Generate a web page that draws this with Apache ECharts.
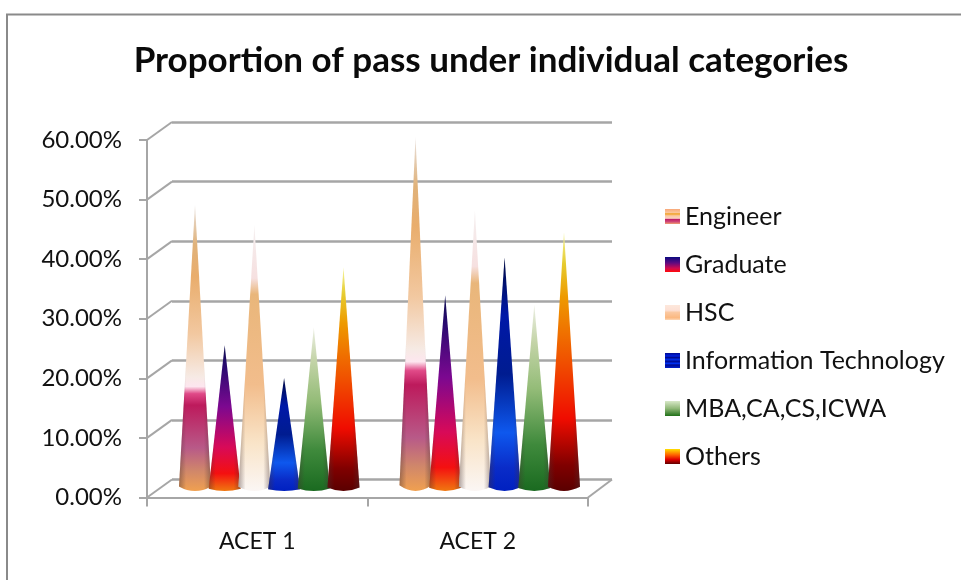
<!DOCTYPE html>
<html><head><meta charset="utf-8">
<style>html,body{margin:0;padding:0;background:#fff}#c{width:961px;height:580px}</style>
<script src="https://cdn.jsdelivr.net/npm/echarts@6/dist/echarts.min.js"></script>
</head><body><div id="c"></div>
<script>
const categories = ['ACET 1', 'ACET 2'];
const engineer = [48.1, 59.5];
const graduate = [24.5, 32.9];
const hsc = [44.7, 47.2];
const infoTech = [19.0, 39.3];
const mba = [27.5, 31.3];
const others = [37.6, 43.5];
const gridTicks = [0, 10, 20, 30, 40, 50, 60];
const FONT = 'Lato, "Open Sans", sans-serif';
const GRID_COLOR = '#a6a6a6';

function vgrad(stops) {
  return {type:'linear',x:0,y:0,x2:0,y2:1,colorStops:stops.map(s=>({offset:s[0],color:s[1]}))};
}
const coneFills = {
  Engineer: vgrad([[0,'#e8e2e0'],[0.14,'#e0b27a'],[0.25,'#e9ad6c'],[0.45,'#f2c8a0'],[0.6,'#f6eae4'],[0.635,'#fde6ef'],[0.66,'#e04a88'],[0.7,'#bd1a5c'],[0.85,'#b85a88'],[0.93,'#d0876a'],[1,'#f0a050']]),
  Graduate: vgrad([[0,'#101050'],[0.15,'#2a0a70'],[0.42,'#7c0890'],[0.7,'#d80a58'],[0.88,'#f41010'],[1,'#f07810']]),
  HSC: vgrad([[0,'#f5f0f0'],[0.2,'#f6e0e0'],[0.26,'#e9b67a'],[0.6,'#f2bd8c'],[0.82,'#f9e4c8'],[1,'#fbf6f4']]),
  'Information Technology': vgrad([[0,'#000a40'],[0.25,'#0018a8'],[0.5,'#001c90'],[0.75,'#0e58ee'],[0.9,'#0a2cc8'],[1,'#0020c0']]),
  'MBA,CA,CS,ICWA': vgrad([[0,'#ecefe4'],[0.2,'#c4d4a8'],[0.45,'#94bc78'],[0.75,'#3f8a3c'],[1,'#1a6a20']]),
  Others: vgrad([[0,'#f4f4a0'],[0.12,'#e6cc30'],[0.25,'#ee9a00'],[0.5,'#f05000'],[0.72,'#f00c00'],[0.9,'#800000'],[1,'#5a0000']])
};
const legendFills = {
  Engineer: vgrad([[0,'#f8a878'],[0.25,'#fbc89c'],[0.32,'#f0a020'],[0.45,'#fbc8a0'],[0.62,'#fbd0c0'],[0.7,'#c02068'],[0.85,'#d04878'],[1,'#f0a070']]),
  Graduate: vgrad([[0,'#0a0a80'],[0.4,'#600a80'],[0.75,'#d00a50'],[1,'#ff0a0a']]),
  HSC: vgrad([[0,'#fde8dc'],[0.35,'#fde0d4'],[0.5,'#fbc8a0'],[0.85,'#fbb880'],[1,'#fdd8b8']]),
  'Information Technology': vgrad([[0,'#000a90'],[0.2,'#0020e0'],[0.3,'#000a90'],[0.45,'#0030f0'],[0.55,'#000a90'],[0.7,'#0030f0'],[0.8,'#000a90'],[1,'#0020d0']]),
  'MBA,CA,CS,ICWA': vgrad([[0,'#d8e8c8'],[0.5,'#90b878'],[1,'#207018']]),
  Others: vgrad([[0,'#ffe000'],[0.4,'#ff6000'],[0.7,'#e00000'],[1,'#600000']])
};
const shade = {type:'linear',x:0,y:0,x2:1,y2:0,colorStops:[
  {offset:0,color:'rgba(70,50,50,0.42)'},{offset:0.22,color:'rgba(70,50,50,0)'},
  {offset:0.78,color:'rgba(70,50,50,0)'},{offset:1,color:'rgba(70,50,50,0.42)'}]};

const seriesData = [
  ['Engineer',engineer],['Graduate',graduate],['HSC',hsc],
  ['Information Technology',infoTech],['MBA,CA,CS,ICWA',mba],['Others',others]
];
const SLOT = 29.7, CONE_W = 32;
const CONE_PATH = 'M50 0 L100 98.4 Q50 101.6 0 98.4 Z';

const coneSeries = seriesData.map(([name,values],i)=>({
  name, type:'custom', xAxisIndex:2, yAxisIndex:2, coordinateSystem:'cartesian2d', z:5,
  itemStyle:{color:legendFills[name]},
  data: values.map((v,j)=>[j,v]),
  encode:{x:0,y:1},
  renderItem(params,api){
    const top = api.coord([api.value(0),api.value(1)]);
    const base = api.coord([api.value(0),0]);
    const cx = top[0]+(i-2.5)*SLOT;
    const shape = {pathData:CONE_PATH,x:cx-CONE_W/2,y:top[1],width:CONE_W,height:base[1]-top[1],layout:'cover'};
    return {type:'group',children:[
      {type:'path',shape,style:{fill:coneFills[name]}},
      {type:'path',shape,style:{fill:shade}}
    ]};
  }
}));

const diagSeries = {
  type:'custom', xAxisIndex:0, yAxisIndex:0, z:1, silent:true,
  data: gridTicks.map(v=>[0,v]), encode:{x:0,y:1},
  renderItem(params,api){
    const p = api.coord([0,api.value(1)]);
    const x = p[0]-api.size([1,0])[0]/2;
    return {type:'line',shape:{x1:x,y1:p[1],x2:x+25,y2:p[1]-18},style:{stroke:GRID_COLOR,lineWidth:2}};
  }
};
const floorSide = {
  type:'custom', xAxisIndex:0, yAxisIndex:0, z:1, silent:true,
  data:[[1,0]], encode:{x:0,y:1},
  renderItem(params,api){
    const p = api.coord([1,0]);
    const x = p[0]+api.size([1,0])[0]/2;
    return {type:'line',shape:{x1:x,y1:p[1],x2:x+24,y2:p[1]-18},style:{stroke:GRID_COLOR,lineWidth:2}};
  }
};

const axisLine = {show:true,lineStyle:{color:GRID_COLOR,width:2}};
const chart = echarts.init(document.getElementById('c'),null,{renderer:'canvas'});
chart.setOption({
  backgroundColor:'#fff', animation:false,
  title:{text:'Proportion of pass under individual categories',left:486,top:38,textAlign:'center',
    textStyle:{fontFamily:FONT,fontWeight:'bold',fontSize:35,color:'#0a0a0a'}},
  graphic:[{type:'rect',z:-1,silent:true,shape:{x:7,y:14.5,width:1000,height:700},style:{fill:'none',stroke:'#8a8a8a',lineWidth:2}}],
  legend:{left:660,top:199,orient:'vertical',itemWidth:15,itemHeight:15,itemGap:26,icon:'rect',
    textStyle:{fontFamily:FONT,fontSize:25,color:'#111',lineHeight:22},
    itemGap:26-3,
    data:seriesData.map(s=>s[0])},
  grid:[
    {left:147,width:441,top:140,height:357.5},
    {left:172,width:440,top:122,height:357.5},
    {left:159,width:441,top:134,height:357}
  ],
  xAxis:[
    {type:'category',gridIndex:0,data:categories,axisLine,axisTick:{show:true,length:9,lineStyle:{color:GRID_COLOR,width:2}},
      axisLabel:{fontFamily:FONT,fontSize:23,color:'#111',margin:33}},
    {type:'category',gridIndex:1,data:categories,axisLine:{show:false},axisTick:{show:false},axisLabel:{show:false}},
    {type:'category',gridIndex:2,data:categories,axisLine:{show:false},axisTick:{show:false},axisLabel:{show:false}}
  ],
  yAxis:[
    {type:'value',gridIndex:0,min:0,max:60,interval:10,axisLine,axisTick:{show:true,length:8,lineStyle:{color:GRID_COLOR,width:2}},splitLine:{show:false},
      axisLabel:{fontFamily:FONT,fontSize:24,color:'#111',margin:25,formatter:v=>v.toFixed(2)+'%'}},
    {type:'value',gridIndex:1,min:0,max:60,interval:10,axisLine:{show:false},axisTick:{show:false},axisLabel:{show:false},
      splitLine:{show:true,lineStyle:{color:GRID_COLOR,width:2.5}}},
    {type:'value',gridIndex:2,min:0,max:60,interval:10,axisLine:{show:false},axisTick:{show:false},axisLabel:{show:false},splitLine:{show:false}}
  ],
  series:[diagSeries,floorSide].concat(coneSeries)
});
</script></body></html>
